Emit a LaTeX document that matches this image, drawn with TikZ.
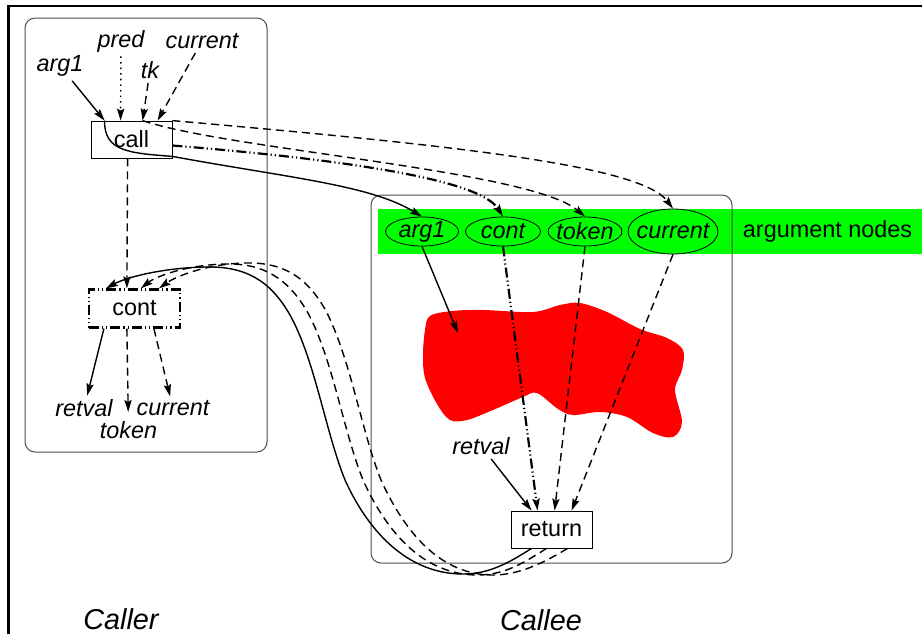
\documentclass[tikz,border=0pt]{standalone}
\usepackage{fontspec}
\setmainfont{Liberation Sans}
\usetikzlibrary{arrows.meta,shapes.geometric,calc}

\begin{document}
\begin{tikzpicture}[x=.5pt,y=-.5pt,font=\fontsize{11.7}{14}\selectfont,
  lbl/.style={font=\fontsize{11.7}{14}\selectfont\itshape,inner sep=2pt},
  big/.style={font=\fontsize{14.4}{17}\selectfont\itshape,inner sep=0pt},
  argn/.style={ellipse,draw,inner xsep=-2.5pt,inner ysep=-1pt,minimum height=14.5pt,font=\fontsize{11.7}{14}\selectfont\itshape},
  opbox/.style={draw,inner sep=0pt,minimum width=40.5pt,minimum height=18.5pt},
  region/.style={draw=black!70,rounded corners=5pt,line width=.5pt},
  tip/.style={line width=.7pt,-{Stealth[length=6pt,width=3.6pt,inset=1pt]}},
  dsh/.style={dash pattern=on 4pt off 2.5pt},
  dotd/.style={dash pattern=on .8pt off 2pt},
  kline/.style={line width=1.1pt,dash pattern=on 5pt off 1.5pt on .6pt off 1.5pt on .6pt off 1.5pt}]

\useasboundingbox (0,0) rectangle (922,634);
\draw[line width=1.3pt] (8.5,634) -- (8.5,6) -- (922,6);

\fill[green] (378,209) rectangle (922,254);
\draw[region] (25,18) rectangle (267,452);
\draw[region] (371,195) rectangle (732,563);

\fill[red] plot[smooth cycle,tension=.55] coordinates {(430,316) (452,311) (483,310) (533,312) (560,305) (580,303) (607,312) (640,329) (667,338) (683,350) (682,370) (675,390) (682,422) (673,437) (653,433) (627,417) (600,412) (573,415) (558,409) (537,393) (523,397) (493,410) (467,420) (450,420) (437,404) (425,378) (423,355) (425,330)};

\node[opbox] (call) at (131.5,139.5) {call};
\node[opbox,kline,minimum width=45.5pt,minimum height=19pt] (cont) at (134.5,308.5) {cont};
\node[opbox] (ret) at (551.5,529.5) {return};

\node[argn,minimum width=36.5pt] (arg) at (422,231.5) {arg1};
\node[argn,minimum width=37.5pt] (kont) at (503,231.5) {cont};
\node[argn,minimum width=37pt] (tok) at (585,231.5) {token};
\node[argn,minimum width=45pt,minimum height=22.5pt] (cur) at (673,231.5) {current};
\node (argtxt) at (827.5,231.5) {argument nodes};

\node[lbl] (larg) at (60,66) {arg1};
\node[lbl] (lpred) at (121,41) {pred};
\node[lbl] (lcur) at (202,41) {current};
\node[lbl] (ltk) at (150,70) {tk};
\node[lbl] (lret) at (84,408.5) {retval};
\node[lbl] (lcurb) at (173,408.5) {current};
\node[lbl] (ltok) at (128.5,430) {token};
\node[lbl] (lretv) at (481,446) {retval};
\node[big] (caller) at (121,619) {Caller};
\node[big] (callee) at (541,620) {Callee};

\draw[tip] (larg) -- ($(call.north west)+(14,0)$);
\draw[tip,dotd] (lpred) -- ($(call.north west)+(30,0)$);
\draw[tip,dsh] (ltk) -- ($(call.north west)+(52,0)$);
\draw[tip,dsh] (lcur) -- ($(call.north west)+(67,0)$);

\draw[tip] ($(call.north west)+(14,0)$) .. controls (104,152) and (130,153) .. ($(call.south east)+(0,-2)$) .. controls (290,178) and (370,185) .. (arg.north);
\draw[tip,kline] ($(call.east)+(0,6)$) .. controls (350,160) and (480,180) .. (kont.north);
\draw[tip,dsh] ($(call.north west)+(52,0)$) .. controls (230,150) and (530,170) .. (tok.north);
\draw[tip,dsh] (call.north east) .. controls (450,145) and (640,165) .. (cur.north);
\draw[tip,dsh] ($(call.south west)+(37,0)$) -- ($(cont.north west)+(39,0)$);

\draw[tip] ($(cont.south west)+(16,0)$) -- (lret);
\draw[tip,dsh,shorten >=2.5pt] ($(cont.south west)+(39,0)$) -- (ltok);
\draw[tip,dsh] ($(cont.south west)+(66,0)$) -- (lcurb);

\coordinate (blob) at (458,333);
\draw[tip] (arg.south) -- (blob);
\draw[tip,kline] (kont.south) -- ($(ret.north west)+(27,0)$);
\draw[tip,dsh] (tok.south) -- ($(ret.north west)+(44,0)$);
\draw[tip,dsh] (cur.south) -- ($(ret.north west)+(61,0)$);
\draw[tip] (lretv) -- ($(ret.north west)+(21,0)$);

\draw[tip] ($(ret.south west)+(21,0)$) .. controls (510,562) and (490,574) .. (463,574) .. controls (410,574) and (370,535) .. (345,480) .. controls (325,430) and (315,360) .. (290,315) .. controls (270,280) and (245,266) .. (205,267) .. controls (160,268) and (125,278) .. ($(cont.north west)+(18,0)$);
\draw[tip,dsh] ($(ret.south west)+(36,0)$) .. controls (525,562) and (505,575) .. (478,575) .. controls (425,575) and (388,535) .. (363,480) .. controls (343,430) and (333,360) .. (308,313) .. controls (288,278) and (263,263) .. (225,264) .. controls (185,265) and (155,277) .. ($(cont.north west)+(53,0)$);
\draw[tip,dsh] ($(ret.south west)+(57,0)$) .. controls (545,562) and (520,575) .. (493,575) .. controls (442,575) and (406,535) .. (381,480) .. controls (361,430) and (351,360) .. (326,311) .. controls (306,275) and (281,262) .. (245,263) .. controls (205,264) and (175,277) .. ($(cont.north west)+(71,0)$);
\end{tikzpicture}
\end{document}
